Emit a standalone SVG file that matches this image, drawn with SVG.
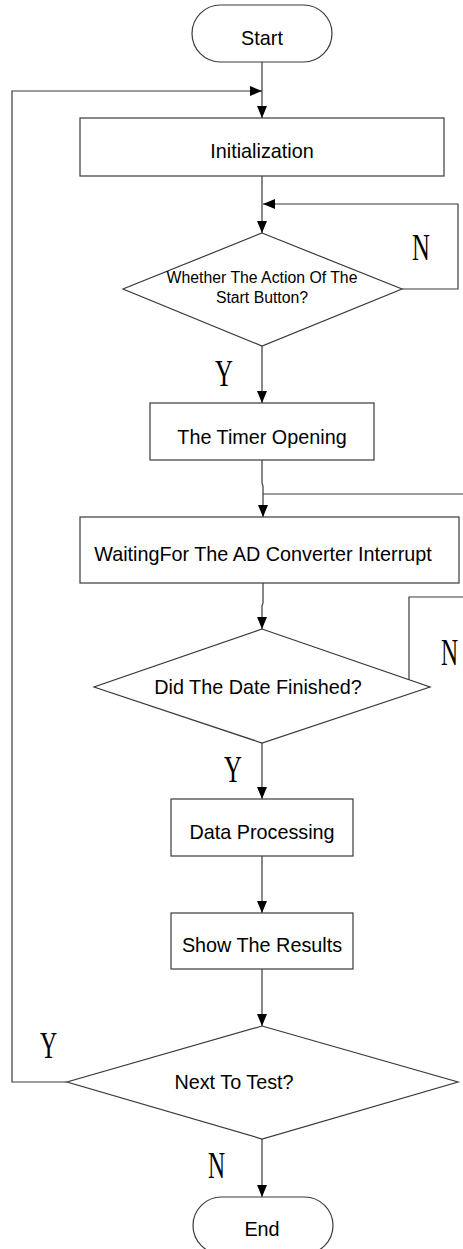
<svg xmlns="http://www.w3.org/2000/svg" width="463" height="1249" viewBox="0 0 463 1249">
  <style>
    .shape { fill: #ffffff; stroke: #3a3a3a; stroke-width: 1.2; }
    .wire { fill: none; stroke: #3a3a3a; stroke-width: 1.2; }
    .label { font-family: "Liberation Sans", Arial, sans-serif; font-size: 19.8px; fill: #000; text-anchor: middle; }
    .small { font-size: 15.8px; }
    .yn { font-family: "Liberation Serif", "Times New Roman", serif; font-size: 37px; fill: #000; }
  </style>
  <defs>
    <marker id="arrow" viewBox="0 0 12 10" refX="12" refY="5" markerWidth="12" markerHeight="10" markerUnits="userSpaceOnUse" orient="auto">
      <path d="M0 0 L12 5 L0 10 Z" fill="#000"/>
    </marker>
  </defs>

  <rect x="0" y="0" width="463" height="1249" fill="#ffffff"/>

  <!-- connectors -->
  <g id="connectors">
    <path class="wire" d="M262 62 V118" marker-end="url(#arrow)"/>
    <path class="wire" d="M67 1082 H12 V91 H262" marker-end="url(#arrow)"/>
    <path class="wire" d="M262 176 V233" marker-end="url(#arrow)"/>
    <path class="wire" d="M402 289 H458 V204 H263" marker-end="url(#arrow)"/>
    <path class="wire" d="M262 346 V403" marker-end="url(#arrow)"/>
    <path class="wire" d="M262 460 V483 L263 486 V517" marker-end="url(#arrow)"/>
    <path class="wire" d="M263 494 H463"/>
    <path class="wire" d="M263 583 V603 L262 606 V629" marker-end="url(#arrow)"/>
    <path class="wire" d="M430 687 H409 V597 H463"/>
    <path class="wire" d="M262 743 V799" marker-end="url(#arrow)"/>
    <path class="wire" d="M262 856 V913" marker-end="url(#arrow)"/>
    <path class="wire" d="M262 969 V1026" marker-end="url(#arrow)"/>
    <path class="wire" d="M262 1139 V1197" marker-end="url(#arrow)"/>
  </g>

  <!-- branch labels: condensed serif letters -->
  <g id="branch-labels">
    <text class="yn" transform="translate(412,260) scale(0.67,1)">N</text>
    <text class="yn" transform="translate(215,386) scale(0.67,1)">Y</text>
    <text class="yn" transform="translate(441,665) scale(0.64,1)">N</text>
    <text class="yn" transform="translate(224,782) scale(0.67,1)">Y</text>
    <text class="yn" transform="translate(40,1058) scale(0.64,1)">Y</text>
    <text class="yn" transform="translate(208,1178) scale(0.64,1)">N</text>
  </g>

  <g id="start">
    <rect class="shape" x="192" y="5" width="140" height="57" rx="28.5"/>
    <text class="label" x="262" y="45">Start</text>
  </g>

  <g id="init">
    <rect class="shape" x="80" y="118" width="364" height="58"/>
    <text class="label" x="262" y="158">Initialization</text>
  </g>

  <g id="check-start">
    <polygon class="shape" points="262,233 402,289 262,346 123,289"/>
    <text class="label small" x="262" y="283">Whether The Action Of The</text>
    <text class="label small" x="262" y="303">Start Button?</text>
  </g>

  <g id="timer">
    <rect class="shape" x="150" y="403" width="224" height="57"/>
    <text class="label" x="262" y="444">The Timer Opening</text>
  </g>

  <g id="wait-ad">
    <rect class="shape" x="80" y="517" width="379" height="66"/>
    <text class="label" x="263" y="561">WaitingFor The AD Converter Interrupt</text>
  </g>

  <g id="check-data">
    <polygon class="shape" points="262,629 430,687 262,743 94,687"/>
    <text class="label" x="258" y="694">Did The Date Finished?</text>
  </g>

  <g id="processing">
    <rect class="shape" x="171" y="799" width="182" height="57"/>
    <text class="label" x="262" y="839">Data Processing</text>
  </g>

  <g id="results">
    <rect class="shape" x="171" y="913" width="182" height="56"/>
    <text class="label" x="262" y="952">Show The Results</text>
  </g>

  <g id="check-next">
    <polygon class="shape" points="262,1026 458,1082 262,1139 67,1082"/>
    <text class="label" x="234" y="1089">Next To Test?</text>
  </g>

  <g id="end">
    <rect class="shape" x="193" y="1197" width="140" height="57" rx="28.5"/>
    <text class="label" x="262" y="1236">End</text>
  </g>
</svg>
